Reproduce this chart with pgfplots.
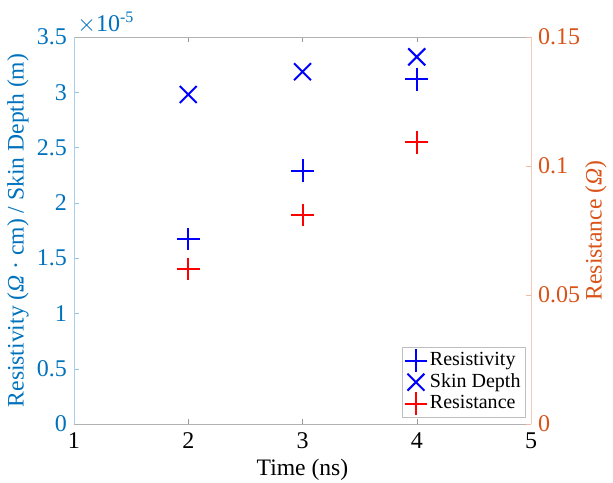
\documentclass[border=0pt]{standalone}
\usepackage{fontspec}
\setmainfont{Liberation Serif}
\usepackage{pgfplots}
\pgfplotsset{compat=1.18}
\definecolor{mblue}{RGB}{0,114,189}
\definecolor{morange}{RGB}{217,83,25}
\begin{document}
\begin{tikzpicture}
  \begin{axis}[
      scale only axis,width=228.5pt,height=193.5pt,
      separate axis lines,
      axis x line*=box,axis y line*=left,
      x axis line style={draw=black!30,-},
      y axis line style={draw=mblue!35,-},
      xmin=1,xmax=5,ymin=0,ymax=3.5e-5,
      xtick={1,2,3,4,5},
      ytick={0,0.5e-5,1e-5,1.5e-5,2e-5,2.5e-5,3e-5,3.5e-5},
      scaled y ticks=base 10:5,
      ytick scale label code/.code={$\times$10\textsuperscript{#1}},
      every y tick scale label/.style={at={(rel axis cs:0,1)},anchor=south west,inner sep=0pt,xshift=1.5pt,yshift=1.5pt,text=mblue,font=\fontsize{12}{14}\selectfont},
      /pgf/number format/assume math mode=true,
      major tick length=2.5pt,
      x tick style={black!40},y tick style={mblue!40},
      tick label style={font=\fontsize{12}{14}\selectfont},
      label style={font=\fontsize{11.8}{14}\selectfont},
      yticklabel style={text=mblue},
      xticklabel style={yshift=-1pt},
      xlabel={Time (ns)},
      ylabel={Resistivity (\textit{Ω} · cm) / Skin Depth (m)},
      xlabel style={at={(axis description cs:0.5,-0.118)},anchor=center},
      ylabel style={at={(axis description cs:-0.1225,0.5)},anchor=center,text=mblue},
    ]
    \addplot[only marks,mark=+,blue,mark size=5.7pt,line width=1pt] coordinates {(2,1.673e-5)(3,2.29e-5)(4,3.117e-5)};
    \addplot[only marks,mark=x,blue,mark size=6pt,line width=1pt] coordinates {(2,2.98e-5)(3,3.186e-5)(4,3.32e-5)};
  \end{axis}
  \begin{axis}[
      scale only axis,width=228.5pt,height=193.5pt,
      axis x line=none,axis y line*=right,
      y axis line style={draw=morange!30,-},
      xmin=1,xmax=5,ymin=0,ymax=0.15,
      ytick={0,0.05,0.1,0.15},
      scaled y ticks=false,
      tick label style={font=\fontsize{12}{14}\selectfont},
      yticklabel style={text=morange,/pgf/number format/.cd,fixed,precision=2},
      /pgf/number format/assume math mode=true,
      major tick length=2.5pt,
      y tick style={morange!40},
      ylabel={Resistance (\textit{Ω})},
      ylabel style={font=\fontsize{11.8}{14}\selectfont,at={(axis description cs:1.142,0.5)},anchor=center,text=morange},
      legend style={at={(0.988,0.017)},anchor=south east,draw=black!25,
        inner sep=1pt,row sep=-0.5pt,nodes={inner sep=1.3pt}},
      legend image code/.code={\draw[#1] plot coordinates {(0pt,0pt)};},
      legend cell align=left,
    ]
    \addlegendimage{only marks,mark=+,blue,mark size=5.7pt,line width=1pt}
    \addlegendentry{Resistivity}
    \addlegendimage{only marks,mark=x,blue,mark size=6pt,line width=1pt}
    \addlegendentry{Skin Depth}
    \addplot[only marks,mark=+,red,mark size=5.7pt,line width=1pt] coordinates {(2,0.0601)(3,0.081)(4,0.1092)};
    \addlegendentry{Resistance}
  \end{axis}
  \pgfresetboundingbox
  \path (-37pt,-29pt) rectangle (269.5pt,212pt);
\end{tikzpicture}
\end{document}
